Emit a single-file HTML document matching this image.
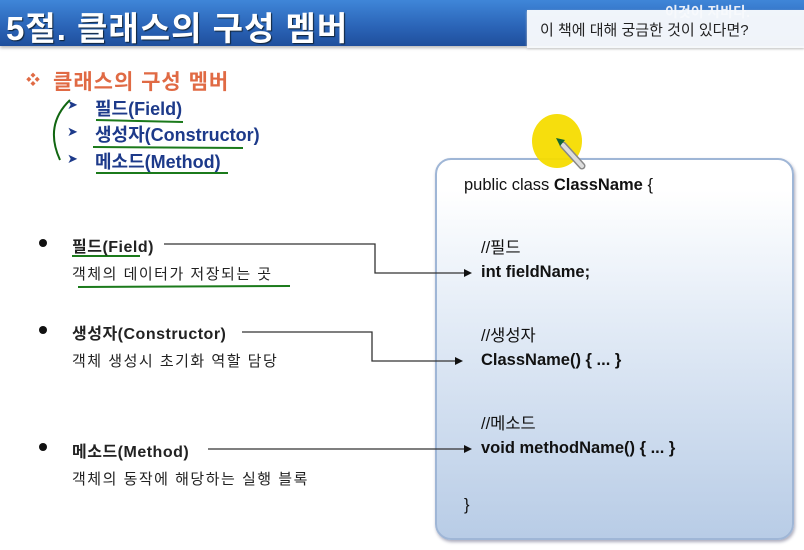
<!DOCTYPE html>
<html><head><meta charset="utf-8"><style>
body{margin:0;width:804px;height:550px;overflow:hidden;background:#fff;position:relative;font-family:"Liberation Sans","Noto Sans CJK KR",sans-serif}
.a{position:absolute;white-space:nowrap}
.hdr{position:absolute;left:0;top:0;width:804px;height:46px;background:linear-gradient(#3f86d8,#2a63b6 60%,#1f4f9c);box-shadow:0 2px 3px #bbb}
.title{left:6px;top:2px;font-size:33px;font-weight:bold;color:#fff;letter-spacing:1px;text-shadow:1px 1px 1px #123}
.pop{position:absolute;left:527px;top:10px;width:277px;height:38px;background:rgba(247,249,252,0.97);box-shadow:0 1px 2px #ccc}
.sub{color:#e06a44;font-size:21px;font-weight:bold;letter-spacing:1px}
.blue{color:#1d3a8a;font-size:18px;font-weight:bold}
.t{font-size:15px;color:#222;letter-spacing:1.5px}
.b{font-size:16px;font-weight:bold;letter-spacing:0.5px}
.box{position:absolute;left:435px;top:158px;width:355px;height:378px;border:2px solid #9fb6d6;border-radius:16px;background:linear-gradient(#fff 8%,#e5edf7 40%,#b8cce6);box-shadow:1px 2px 3px #aab}
.c{font-size:16.5px;color:#111}
</style></head><body>
<div class="hdr"></div>
<div class="a title">5절. 클래스의 구성 멤버</div>
<div class="a" style="left:665px;top:2px;color:#e8eef8;font-size:14px;font-weight:bold">이것이 자바다.</div>
<div class="pop"></div>
<div class="a" style="left:540px;top:19px;font-size:15px;color:#222">이 책에 대해 궁금한 것이 있다면?</div>

<div class="a" style="left:26px;top:70px;color:#e06a44;font-size:14px">❖</div>
<div class="a sub" style="left:53px;top:66px">클래스의 구성 멤버</div>
<div class="a" style="left:67px;top:97px;color:#1d3a8a;font-size:13px">➤</div>
<div class="a" style="left:67px;top:124px;color:#1d3a8a;font-size:13px">➤</div>
<div class="a" style="left:67px;top:151px;color:#1d3a8a;font-size:13px">➤</div>
<div class="a blue" style="left:95px;top:95px">필드(Field)</div>
<div class="a blue" style="left:95px;top:121px">생성자(Constructor)</div>
<div class="a blue" style="left:95px;top:148px">메소드(Method)</div>

<div class="box"></div>

<svg class="a" style="left:0;top:0" width="804" height="550">
<path d="M70 100 Q44 125 60 160" stroke="#116611" stroke-width="2" fill="none"/>
<g stroke="#1b7a1b" stroke-width="2" fill="none">
<path d="M96 120 L183 122"/><path d="M93 147 L243 148"/><path d="M96 173 L228 173"/>
<path d="M72 256 L140 256"/><path d="M78 287 L290 286"/>
</g>
<g stroke="#333" stroke-width="1.3" fill="none">
<path d="M164 244 H375 V273 H466"/><path d="M242 332 H372 V361 H457"/><path d="M208 449 H466"/>
</g>
<g fill="#111">
<path d="M472 273 l-8 -4 v8z"/><path d="M463 361 l-8 -4 v8z"/><path d="M472 449 l-8 -4 v8z"/>
</g>
<g fill="#111"><circle cx="43" cy="243" r="4"/><circle cx="43" cy="330" r="4"/><circle cx="43" cy="447" r="4"/></g>
</svg>
<div class="a t b" style="left:72px;top:233px">필드(Field)</div>
<div class="a t" style="left:72px;top:263px">객체의 데이터가 저장되는 곳</div>
<div class="a t b" style="left:72px;top:320px">생성자(Constructor)</div>
<div class="a t" style="left:72px;top:350px">객체 생성시 초기화 역할 담당</div>
<div class="a t b" style="left:72px;top:438px">메소드(Method)</div>
<div class="a t" style="left:72px;top:468px">객체의 동작에 해당하는 실행 블록</div>

<div class="a c" style="left:464px;top:176px">public class <b>ClassName</b> {</div>
<div class="a c" style="left:481px;top:234px">//필드</div>
<div class="a c" style="left:481px;top:263px;font-weight:bold">int fieldName;</div>
<div class="a c" style="left:481px;top:322px">//생성자</div>
<div class="a c" style="left:481px;top:351px;font-weight:bold">ClassName() { ... }</div>
<div class="a c" style="left:481px;top:410px">//메소드</div>
<div class="a c" style="left:481px;top:439px;font-weight:bold">void methodName() { ... }</div>
<div class="a c" style="left:464px;top:496px">}</div>

<svg class="a" style="left:0;top:0" width="804" height="550">
<ellipse cx="557" cy="141" rx="25" ry="27" fill="#f5dc00" opacity="0.95"/>
<line x1="563" y1="145" x2="582" y2="166" stroke="#888" stroke-width="7" stroke-linecap="round"/>
<line x1="563" y1="145" x2="582" y2="166" stroke="#ddd" stroke-width="4" stroke-linecap="round"/>
<path d="M556 138 l9 2 l-5 6z" fill="#116633"/>
</svg>
</body></html>
